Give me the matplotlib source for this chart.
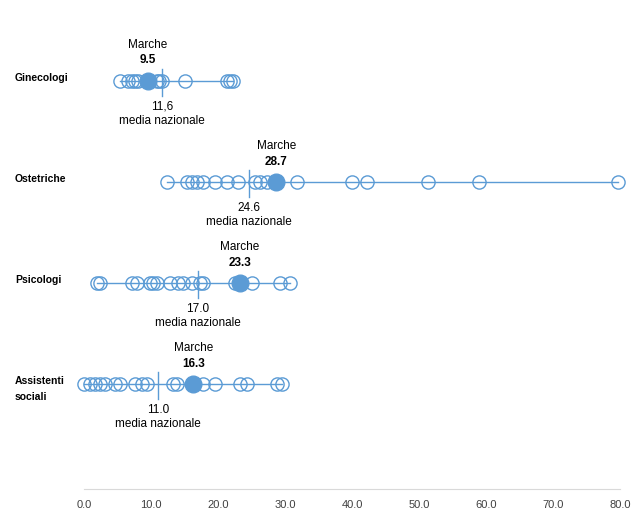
import matplotlib
matplotlib.use('Agg')
import matplotlib.pyplot as plt

plt.rcParams['font.family'] = ['Liberation Sans', 'DejaVu Sans']

# Data
categories = ['Ginecologi', 'Ostetriche', 'Psicologi', 'Assistenti\nsociali']
regions = [
    [5.4, 6.6, 7.2, 7.6, 8.1, 10.9, 11.2, 11.6, 15.1, 21.3, 21.8, 22.2],
    [12.4, 15.4, 16.1, 16.9, 17.8, 19.6, 21.3, 23.0, 25.5, 26.3, 27.3,
     31.8, 40.0, 42.2, 51.3, 59.0, 79.7],
    [1.9, 2.4, 7.2, 7.9, 9.9, 10.3, 10.9, 12.8, 14.0, 14.8, 16.1, 17.3,
     17.8, 22.5, 25.1, 29.3, 30.7],
    [0.0, 0.9, 1.6, 2.4, 3.1, 4.6, 5.4, 7.6, 8.7, 9.4, 13.3, 13.9, 17.8,
     19.6, 23.3, 24.3, 28.8, 29.6],
]
marche = [9.5, 28.7, 23.3, 16.3]
national = [11.6, 24.6, 17.0, 11.0]
national_labels = ['11,6', '24.6', '17.0', '11.0']
xticks = [0, 10, 20, 30, 40, 50, 60, 70, 80]

blue = '#5B9BD5'
W, H = 639, 515
fig = plt.figure(figsize=(W / 100, H / 100), dpi=100)
ax = fig.add_axes([84 / W, (H - 489) / H, 536 / W, 469 / H])
ax.set_xlim(0, 80)
ax.set_ylim(-0.04, 4.60)

rows = [4, 3, 2, 1]
for i, cat in enumerate(categories):
    y = rows[i]
    vals = sorted(regions[i] + [marche[i]])
    ax.plot(vals, [y] * len(vals), color=blue, lw=1.0, zorder=1,
            clip_on=False)
    ax.plot(regions[i], [y] * len(regions[i]), 'o', ms=9.5, mfc='none',
            mec=blue, mew=1.0, zorder=2, clip_on=False)
    ax.plot([marche[i]], [y], 'o', ms=12, mfc=blue, mec=blue, zorder=3)
    ax.plot([national[i], national[i]], [y + 0.12, y - 0.15], color=blue,
            lw=1.0, zorder=4)

    ax.text(marche[i], y + 0.355, 'Marche', ha='center', va='center',
            fontsize=8.5)
    ax.text(marche[i], y + 0.20, f'{marche[i]:.1f}', ha='center',
            va='center', fontsize=8.5, fontweight='bold')
    ax.text(national[i], y - 0.26, national_labels[i], ha='center',
            va='center', fontsize=8.5)
    ax.text(national[i], y - 0.40, 'media nazionale', ha='center',
            va='center', fontsize=8.5)

    ly = y - 0.05 if i == 3 else y + 0.03
    ax.text(-0.129, ly, cat, transform=ax.get_yaxis_transform(),
            ha='left', va='center', fontsize=7.5, fontweight='bold',
            linespacing=1.75)

ax.set_xticks(xticks)
ax.set_xticklabels([f'{t:.1f}' for t in xticks])
ax.set_yticks([])
for s in ['top', 'right', 'left']:
    ax.spines[s].set_visible(False)
ax.spines['bottom'].set_color('#d9d9d9')
ax.tick_params(axis='x', length=0, pad=8, labelsize=8, labelcolor='#404040')

fig.savefig('out.png', dpi=100)
